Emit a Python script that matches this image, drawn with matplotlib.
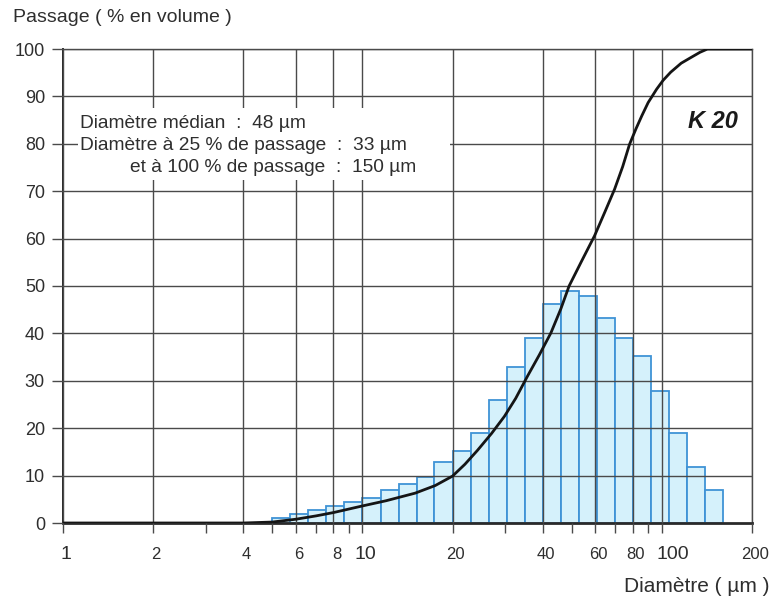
import matplotlib
matplotlib.use("Agg")
import matplotlib.pyplot as plt
import matplotlib.transforms as mtransforms
from matplotlib.ticker import FixedLocator, NullFormatter
from matplotlib.patches import Rectangle

plt.rcParams['font.family'] = ['Liberation Sans', 'DejaVu Sans']

# ---- data ----
bin_edges = [5.0, 5.74, 6.6, 7.58, 8.71, 10.0, 11.5, 13.2, 15.2, 17.4, 20.0,
             23.0, 26.4, 30.3, 34.8, 40.0, 46.0, 52.8, 60.6, 69.6, 80.0,
             91.9, 105.6, 121.3, 139.3, 160.0]
bar_heights = [1.0, 1.9, 2.8, 3.6, 4.4, 5.3, 6.9, 8.3, 9.8, 12.9, 15.2, 19.0,
               25.9, 32.9, 39.0, 46.2, 49.0, 47.8, 43.3, 39.0, 35.2, 27.8,
               18.9, 11.8, 7.0]

curve_x = [1, 4, 5, 6, 7, 8, 10, 12, 15, 17.5, 20, 22, 24.2, 27, 29.8, 32.5,
           35.6, 39, 42.6, 46, 49, 54, 59.6, 64.5, 69.5, 74, 78, 82, 85.7, 90,
           96, 101, 107, 116, 125, 134, 142, 200]
curve_y = [0, 0, 0.2, 0.8, 1.5, 2.2, 3.6, 4.7, 6.3, 7.9, 9.9, 12.4, 15.3,
           18.9, 22.5, 26.3, 31, 35.5, 40.1, 45.2, 50, 55.3, 60.6, 65.6, 70.4,
           75.2, 79.9, 83.2, 85.9, 88.7, 91.5, 93.4, 95.1, 97.0, 98.2, 99.3,
           100, 100]

x_major = [1, 2, 4, 6, 8, 10, 20, 40, 60, 80, 100, 200]
x_major_labels = ['1', '2', '4', '6', '8', '10', '20', '40', '60', '80', '100', '200']
x_big_labels = ['1', '10', '100']
x_minor = [3, 5, 7, 9, 30, 50, 70, 90]
y_ticks = [0, 10, 20, 30, 40, 50, 60, 70, 80, 90, 100]

text_color = '#2e2e2e'
grid_color = '#4a4a4a'

fig = plt.figure(figsize=(7.72, 6.0), dpi=100)
ax = fig.add_axes([63/772, 1-523/600, (752-63)/772, (523-49)/600])
ax.set_xscale('log')
ax.set_xlim(1, 200)
ax.set_ylim(0, 100)

# histogram bars
lefts = bin_edges[:-1]
widths = [b - a for a, b in zip(bin_edges[:-1], bin_edges[1:])]
ax.bar(lefts, bar_heights, width=widths, align='edge', color='#d5f1fb',
       edgecolor='#3f93d6', linewidth=1.3, zorder=1)

# cumulative curve
ax.plot(curve_x, curve_y, color='#151515', linewidth=2.0, zorder=3,
        solid_joinstyle='round')

# ticks and grid
ax.xaxis.set_major_locator(FixedLocator(x_major))
ax.set_xticklabels(x_major_labels)
ax.xaxis.set_minor_locator(FixedLocator(x_minor))
ax.xaxis.set_minor_formatter(NullFormatter())
ax.set_yticks(y_ticks)
ax.set_yticklabels([str(v) for v in y_ticks])
ax.set_axisbelow(False)
ax.grid(True, which='major', color=grid_color, linewidth=1.0, zorder=2)

ax.tick_params(axis='x', which='both', direction='out', length=7, width=1.0,
               color=grid_color, pad=16, labelsize=12, labelcolor=text_color)
ax.tick_params(axis='y', which='both', direction='out', length=8, width=1.0,
               color=grid_color, pad=5, labelsize=13, labelcolor=text_color)

for sp in ax.spines.values():
    sp.set_color(grid_color)
    sp.set_linewidth(1.0)
ax.spines['left'].set_linewidth(1.4)
ax.spines['left'].set_color('#2a2a2a')
ax.spines['bottom'].set_linewidth(2.0)
ax.spines['bottom'].set_color('#2a2a2a')

# x label sizes / small shifts as in the reference
for lbl, txt in zip(ax.get_xticklabels(), x_major_labels):
    lbl.set_verticalalignment('center')
    dx = 3
    if txt in x_big_labels:
        lbl.set_fontsize(14)
    if txt == '100':
        dx = 11
    lbl.set_transform(lbl.get_transform() +
                      mtransforms.ScaledTranslation(dx/100, 0, fig.dpi_scale_trans))

# white area behind annotation text
ax.add_patch(Rectangle((15/689, (523-180)/474), (450-78)/689,
                       72/474, transform=ax.transAxes, facecolor='white',
                       edgecolor='none', zorder=4))

fs_ann = 13.8
ax.text(80/772, 1-124/600, 'Diamètre médian  :  48 µm', transform=fig.transFigure,
        fontsize=fs_ann, color=text_color, va='center', ha='left', zorder=5)
ax.text(80/772, 1-145/600, 'Diamètre à 25 % de passage  :  33 µm',
        transform=fig.transFigure, fontsize=fs_ann, color=text_color,
        va='center', ha='left', zorder=5)
ax.text(130/772, 1-167/600, 'et à 100 % de passage  :  150 µm',
        transform=fig.transFigure, fontsize=fs_ann, color=text_color,
        va='center', ha='left', zorder=5)

ax.text(713/772, 1-122/600, 'K 20', transform=fig.transFigure, fontsize=17,
        fontweight='bold', fontstyle='italic', color='#1a1a1a',
        va='center', ha='center', zorder=5)

fig.text(13/772, 1-18/600, 'Passage ( % en volume )', fontsize=14,
         color=text_color, va='center', ha='left')
fig.text(770/772, 1-586/600, 'Diamètre ( µm )', fontsize=15,
         color=text_color, va='center', ha='right')

fig.savefig('out.png', dpi=100, facecolor='white')
